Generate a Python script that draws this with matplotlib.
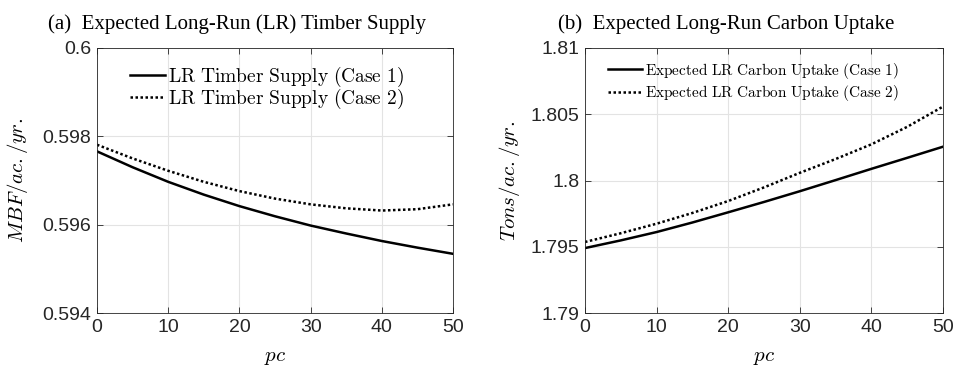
import matplotlib
matplotlib.use('Agg')
import matplotlib.pyplot as plt

plt.rcParams['mathtext.fontset'] = 'cm'
plt.rcParams['font.family'] = 'Liberation Sans'

# data (pc every 5 units)
pc = [0, 5, 10, 15, 20, 25, 30, 35, 40, 45, 50]
timber_case1 = [0.59766, 0.59730, 0.59697, 0.59668, 0.59642, 0.59619, 0.59598, 0.59580, 0.59563, 0.59548, 0.59534]
timber_case2 = [0.59781, 0.59750, 0.59722, 0.59697, 0.59676, 0.59659, 0.59646, 0.59637, 0.59632, 0.59635, 0.59646]
carbon_case1 = [1.79490, 1.79548, 1.79611, 1.79683, 1.79760, 1.79838, 1.79919, 1.80003, 1.80088, 1.80171, 1.80255]
carbon_case2 = [1.79536, 1.79602, 1.79674, 1.79755, 1.79845, 1.79948, 1.80058, 1.80162, 1.80273, 1.80405, 1.80558]

x_ticks = [0, 10, 20, 30, 40, 50]
timber_ticks = [0.594, 0.596, 0.598, 0.6]
timber_labels = ['0.594', '0.596', '0.598', '0.6']
carbon_ticks = [1.79, 1.795, 1.8, 1.805, 1.81]
carbon_labels = ['1.79', '1.795', '1.8', '1.805', '1.81']

fig = plt.figure(figsize=(9.57, 3.74), dpi=100)
ax1 = fig.add_axes([97/957, 1-313/374, 356/957, 265/374])
ax2 = fig.add_axes([585/957, 1-313/374, 358/957, 265/374])


def style(ax, yticks, ylabels, ylim):
    ax.set_xlim(0, 50)
    ax.set_ylim(*ylim)
    ax.set_xticks(x_ticks)
    ax.set_xticklabels([str(t) for t in x_ticks])
    ax.set_yticks(yticks)
    ax.set_yticklabels(ylabels)
    ax.grid(True, color='#e3e3e3', linewidth=0.8)
    ax.set_axisbelow(True)
    ax.tick_params(direction='in', length=4, width=0.6, colors='#262626',
                   labelsize=14, top=True, right=True, pad=4)
    for s in ax.spines.values():
        s.set_color('#262626')
        s.set_linewidth(0.6)
    ax.set_xlabel('$pc$', fontsize=15, labelpad=9)


ax1.plot(pc, timber_case1, color='black', lw=1.8, label=r'$\mathrm{LR\ Timber\ Supply\ (Case\ 1)}$')
ax1.plot(pc, timber_case2, color='black', lw=1.8, ls=(0, (1, 1)), label=r'$\mathrm{LR\ Timber\ Supply\ (Case\ 2)}$')
style(ax1, timber_ticks, timber_labels, (0.594, 0.6))
ax1.set_ylabel('$MBF/ac./yr.$', fontsize=15, labelpad=9)
ax1.set_title('(a)  Expected Long-Run (LR) Timber Supply', family='Liberation Serif', fontsize=15, pad=14, x=0.393)
ax1.legend(loc='upper left', bbox_to_anchor=(0.093, 0.936), frameon=False, fontsize=14,
           handlelength=1.8, handletextpad=0.15, borderpad=0, borderaxespad=0, labelspacing=-0.1)

ax2.plot(pc, carbon_case1, color='black', lw=1.8, label=r'$\mathrm{Expected\ LR\ Carbon\ Uptake\ (Case\ 1)}$')
ax2.plot(pc, carbon_case2, color='black', lw=1.8, ls=(0, (1, 1)), label=r'$\mathrm{Expected\ LR\ Carbon\ Uptake\ (Case\ 2)}$')
style(ax2, carbon_ticks, carbon_labels, (1.79, 1.81))
ax2.set_ylabel('$Tons/ac./yr.$', fontsize=15, labelpad=6)
ax2.set_title('(b)  Expected Long-Run Carbon Uptake', family='Liberation Serif', fontsize=15, pad=14, x=0.394)
ax2.legend(loc='upper left', bbox_to_anchor=(0.064, 0.952), frameon=False, fontsize=11,
           handlelength=2.2, handletextpad=0.2, borderpad=0, borderaxespad=0, labelspacing=0.18)

fig.savefig('out.png', dpi=100)
